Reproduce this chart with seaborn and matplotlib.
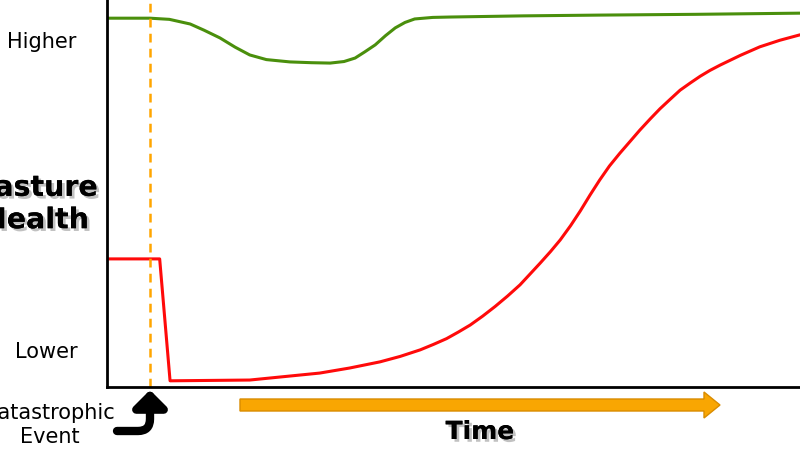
import numpy as np
import pandas as pd
import matplotlib
matplotlib.use("Agg")
import matplotlib.pyplot as plt
import matplotlib.patheffects as pe
from matplotlib.patches import FancyArrow
from matplotlib.transforms import IdentityTransform
import seaborn as sns

# time (0-100) and pasture health (0-100)
green_t = [0, 6.2, 9.0, 12.0, 14.0, 16.3, 18.5, 20.6, 23.0, 26.4, 29.5, 32.2, 34.2, 35.8,
           37.2, 38.7, 40.2, 41.6, 43.0, 44.4, 47.0, 49.5, 60.0, 71.1, 85.0, 100]
green_h = [95.3, 95.3, 95.0, 93.8, 92.2, 90.2, 87.8, 85.8, 84.6, 84.0, 83.8, 83.7, 84.1, 85.0,
           86.6, 88.4, 90.8, 92.8, 94.2, 95.1, 95.5, 95.6, 95.9, 96.1, 96.3, 96.6]

red_t = [0, 7.6, 9.1, 20.6, 30.7, 35.0, 39.4, 42.3, 45.2, 47.1, 49.0, 50.7, 52.4, 54.2, 56.0,
         57.8, 59.6, 61.0, 62.5, 64.0, 65.4, 66.9, 68.3, 69.7, 71.1, 72.5, 74.0, 75.5, 76.9,
         78.4, 79.8, 81.3, 82.7, 84.2, 85.6, 87.0, 88.5, 91.4, 94.2, 97.1, 100]
red_h = [33.1, 33.1, 1.6, 1.8, 3.6, 4.9, 6.5, 7.9, 9.6, 11.0, 12.5, 14.2, 16.0, 18.3, 20.8,
         23.5, 26.4, 29.1, 32.0, 35.0, 38.0, 41.7, 45.5, 49.6, 53.5, 57.1, 60.4, 63.5, 66.4,
         69.3, 71.9, 74.4, 76.7, 78.6, 80.3, 81.8, 83.2, 85.7, 87.9, 89.6, 91.0]

event_t = 6.2

green = pd.DataFrame({"t": green_t, "h": green_h})
red = pd.DataFrame({"t": red_t, "h": red_h})

sns.set_style("white")
plt.rcParams["font.family"] = ["DejaVu Sans"]
plt.rcParams["text.color"] = "black"

W, H = 800, 471
fig = plt.figure(figsize=(8, 4.71), dpi=100)
ax = fig.add_axes([107 / W, 1 - 387 / H, 1 - 107 / W, 387 / H])

sns.lineplot(data=green, x="t", y="h", sort=False, color="#4a8f0c", lw=2.2, ax=ax)
sns.lineplot(data=red, x="t", y="h", sort=False, color="#ff0a0a", lw=2.2, ax=ax)
ax.axvline(event_t, color="#ffa500", lw=1.8, ls=(0, (3.5, 2.5)), clip_on=False)

ax.set_xlim(0, 100)
ax.set_ylim(0, 100)
ax.set_xticks([])
ax.set_yticks([])
ax.set_xlabel("")
ax.set_ylabel("")
sns.despine(ax=ax)
for s in ["left", "bottom"]:
    ax.spines[s].set_color("black")
    ax.spines[s].set_linewidth(2)


def fx(px):
    return px / W


def fy(py):
    return 1 - py / H


shadow = [pe.withSimplePatchShadow(offset=(2, -2), shadow_rgbFace="#777777", alpha=0.45), pe.Normal()]

fig.text(fx(42), fy(42), "Higher", fontsize=15, ha="center", va="center")
fig.text(fx(46), fy(352), "Lower", fontsize=15, ha="center", va="center")
fig.text(fx(36), fy(204), "Pasture\nHealth", fontsize=20.5, fontweight="bold", ha="center",
         va="center", linespacing=1.2, path_effects=shadow)
fig.text(fx(50), fy(425), "Catastrophic\nEvent", fontsize=15, ha="center", va="center",
         linespacing=1.25)
fig.text(fx(480), fy(432), "Time", fontsize=18, fontweight="bold", ha="center", va="center",
         path_effects=shadow)

# curved arrow pointing at the event
ax.annotate("", xy=(150, H - 390), xytext=(117, H - 431), xycoords="figure pixels",
            textcoords="figure pixels",
            arrowprops=dict(arrowstyle="-|>,head_length=0.55,head_width=0.55", lw=6,
                            color="black", connectionstyle="angle,angleA=0,angleB=90,rad=12",
                            shrinkA=0, shrinkB=0, mutation_scale=18))

# time arrow
arr = FancyArrow(240, H - 405, 480, 0, width=12, head_width=26, head_length=16,
                 length_includes_head=True, facecolor="#f9a602", edgecolor="#d98c00", lw=1,
                 transform=IdentityTransform())
fig.add_artist(arr)

fig.savefig("out.png", dpi=100)
